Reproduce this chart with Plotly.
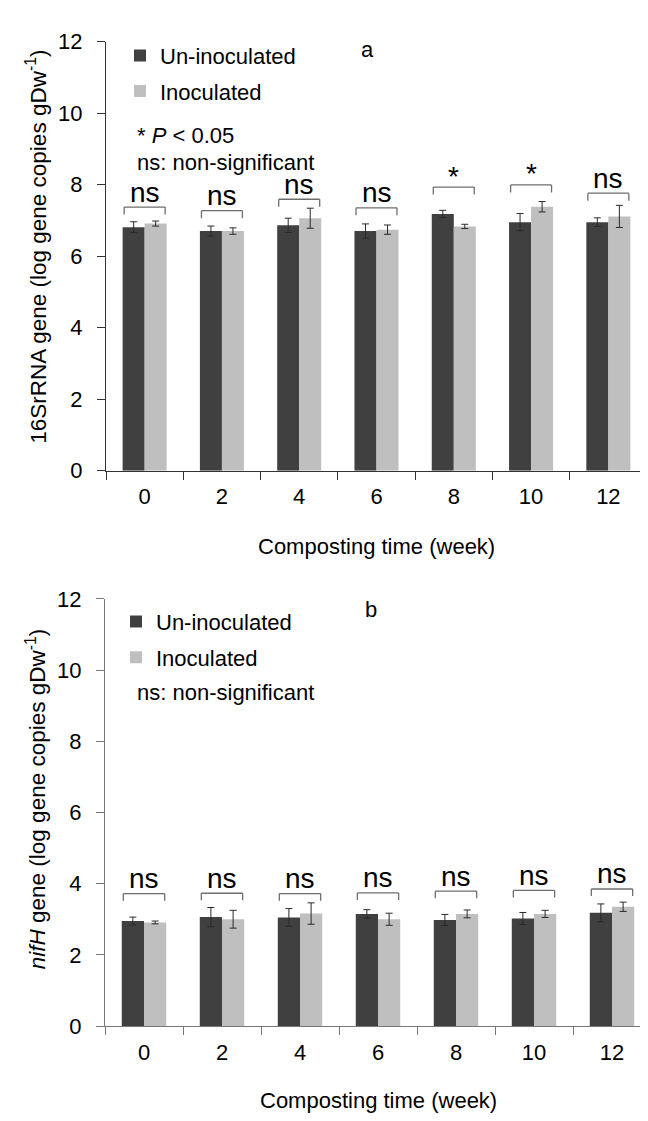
import plotly.graph_objects as go

W, H = 648, 1121

weeks = ["0", "2", "4", "6", "8", "10", "12"]

# Panel a: 16SrRNA gene
a_uninoc = [6.81, 6.70, 6.86, 6.70, 7.18, 6.95, 6.95]
a_uninoc_err = [0.15, 0.14, 0.20, 0.20, 0.10, 0.24, 0.12]
a_inoc = [6.91, 6.70, 7.06, 6.74, 6.83, 7.38, 7.11]
a_inoc_err = [0.07, 0.09, 0.28, 0.13, 0.06, 0.145, 0.31]
a_sig = ["ns", "ns", "ns", "ns", "*", "*", "ns"]

# Panel b: nifH gene
b_uninoc = [2.95, 3.06, 3.05, 3.15, 2.98, 3.02, 3.18]
b_uninoc_err = [0.11, 0.27, 0.25, 0.12, 0.155, 0.17, 0.25]
b_inoc = [2.91, 3.00, 3.16, 3.00, 3.15, 3.15, 3.35]
b_inoc_err = [0.04, 0.25, 0.30, 0.17, 0.11, 0.10, 0.13]
b_sig = ["ns", "ns", "ns", "ns", "ns", "ns", "ns"]

# bracket heights (annotation layout)
a_bracket = [7.37, 7.27, 7.59, 7.35, 7.93, 7.99, 7.76]
b_bracket = [3.72, 3.73, 3.72, 3.74, 3.79, 3.81, 3.85]

DARK = "#404040"
LIGHT = "#bfbfbf"
FONT = "Liberation Sans, Arial, sans-serif"


def px(x):
    return x / W


def py(y):
    return 1 - y / H


fig = go.Figure()

panels = [
    ("x", "y", "legend", a_uninoc, a_uninoc_err, a_inoc, a_inoc_err),
    ("x2", "y2", "legend2", b_uninoc, b_uninoc_err, b_inoc, b_inoc_err),
]
for xa, ya, lg, u, ue, i, ie in panels:
    fig.add_trace(go.Bar(
        x=weeks, y=u, name="Un-inoculated", marker=dict(color=DARK, line=dict(width=0)),
        error_y=dict(type="data", array=ue, color="#2a2a2a", thickness=1, width=3.5),
        xaxis=xa, yaxis=ya, legend=lg, legendgroup="u" + lg,
    ))
    fig.add_trace(go.Bar(
        x=weeks, y=i, name="Inoculated", marker=dict(color=LIGHT, line=dict(width=0)),
        error_y=dict(type="data", array=ie, color="#2a2a2a", thickness=1, width=3.5),
        xaxis=xa, yaxis=ya, legend=lg, legendgroup="i" + lg,
    ))

shapes = []
annotations = []
half = 0.265
for xa, ya, br, sig, leg, col in [("x", "y", a_bracket, a_sig, 0.21, "#6e6e6e"),
                                  ("x2", "y2", b_bracket, b_sig, 0.20, "#6e6e6e")]:
    for k, (h, s) in enumerate(zip(br, sig)):
        line = dict(color=col, width=1.3)
        shapes.append(dict(type="line", xref=xa, yref=ya, x0=k - half, x1=k + half, y0=h, y1=h, line=line))
        shapes.append(dict(type="line", xref=xa, yref=ya, x0=k - half, x1=k - half, y0=h, y1=h - leg, line=line))
        shapes.append(dict(type="line", xref=xa, yref=ya, x0=k + half, x1=k + half, y0=h, y1=h - leg, line=line))
        annotations.append(dict(
            x=k, y=h, xref=xa, yref=ya, text=s, showarrow=False,
            xanchor="center", yanchor="middle", yshift=15 if s == "ns" else 11,
            font=dict(size=28, color="black", family=FONT),
        ))


def note(x, y, text, size=22, xanchor="center", angle=0):
    return dict(x=px(x), y=py(y), xref="paper", yref="paper", text=text, showarrow=False,
                xanchor=xanchor, yanchor="middle", textangle=angle,
                font=dict(size=size, family=FONT, color="black"))


annotations += [
    note(359, 30, "a"),
    note(363, 603, "b"),
    note(127, 118, "* <i>P</i> < 0.05", xanchor="left"),
    note(127, 146, "ns: non-significant", xanchor="left"),
    note(127, 688, "ns: non-significant", xanchor="left"),
    note(368, 538, "Composting time (week)"),
    note(370, 1105, "Composting time (week)"),
    note(28, 232, "16SrRNA gene (log gene copies gDw<sup>-1</sup>)", size=22.5, angle=-90),
    note(28, 797, "<i>nifH</i> gene (log gene copies gDw<sup>-1</sup>)", size=22.5, angle=-90),
]

xcommon = dict(type="category", tickson="boundaries", ticks="outside", ticklen=8, tickwidth=1,
               showline=True, linewidth=1.2, showgrid=False, zeroline=False,
               tickfont=dict(size=22, family=FONT, color="black"), ticklabelstandoff=6)
ycommon = dict(range=[0, 12], dtick=2, ticks="outside", ticklen=8, tickwidth=1,
               showline=True, linewidth=1.2, showgrid=False, zeroline=False,
               tickfont=dict(size=22, family=FONT, color="black"), ticklabelstandoff=10)

legend_common = dict(xanchor="left", yanchor="top", bgcolor="rgba(0,0,0,0)",
                     font=dict(size=22, family=FONT, color="black"),
                     traceorder="grouped", tracegroupgap=4, itemwidth=30)

fig.update_layout(
    width=W, height=H,
    margin=dict(l=0, r=0, t=0, b=0),
    paper_bgcolor="white", plot_bgcolor="white",
    barmode="group", bargap=0.43, bargroupgap=0,
    font=dict(family=FONT, color="black"),
    xaxis=dict(domain=[px(98), px(639)], anchor="y", linecolor="#333333", tickcolor="#333333", **xcommon),
    yaxis=dict(domain=[py(461), py(22)], anchor="x", linecolor="#333333", tickcolor="#333333", **ycommon),
    xaxis2=dict(domain=[px(97), px(643)], anchor="y2", linecolor="#777777", tickcolor="#777777", **xcommon),
    yaxis2=dict(domain=[py(1029), py(592)], anchor="x2", linecolor="#777777", tickcolor="#777777", **ycommon),
    legend=dict(x=px(112), y=py(15), **legend_common),
    legend2=dict(x=px(108), y=py(594), **legend_common),
    shapes=shapes,
    annotations=annotations,
    showlegend=True,
)

fig.write_html("out.html")
